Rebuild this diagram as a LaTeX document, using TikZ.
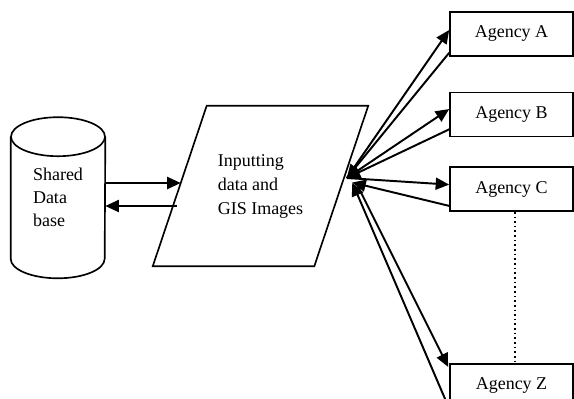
\documentclass[tikz,border=0pt]{standalone}
\usepackage{fontspec}
\setmainfont{Liberation Serif}
\usetikzlibrary{shapes, arrows.meta, positioning, calc}

\begin{document}
\begin{tikzpicture}
  [x=0.6667pt, y=0.6667pt,
  % block
  block/.style = {rectangle,
    draw, line width=1.1pt,
    minimum width=82pt,
    minimum height=29.3pt,
    font=\fontsize{12}{15}\selectfont},
  % input
  input/.style = {rectangle,
    minimum width=107.3pt,
    minimum height=106.7pt,
    align=left, font=\fontsize{12}{16}\selectfont},
  % base
  base/.style = {rectangle,
    minimum width=62.7pt,
    minimum height=81pt,
    align=left, font=\fontsize{12}{15.3}\selectfont},
  % line
  line/.style = {draw, line width=1.3pt,
    -{Triangle[length=9pt, width=8pt]}},
  ]

  \useasboundingbox (0,0) rectangle (574,398);
  \clip (0,0) rectangle (574,398);

  % nodes
  \node [base] (db) at (58,200.25) {Shared\\Data\\base};
  \node [input] (inp) at (260.5,212) {Inputting\\data and\\GIS Images};
  \node [block] (A) at (511.5,364) {Agency A};
  \node [block, below=23.3pt of A] (B) {Agency B};
  \node [block, below=19.3pt of B] (C) {Agency C};
  \node [block, below=100.7pt of C] (Z) {Agency Z};

  % cylinder
  \draw [line width=1.1pt] (db.north west) -- (db.south west)
    arc [start angle=180, end angle=360, x radius=47, y radius=19.5]
    -- (db.north east);
  \draw [line width=1.1pt] (db.north) ellipse [x radius=47, y radius=19.5];

  % parallelogram
  \draw [line width=1.1pt] ($(inp.north west)+(27,0)$) -- ($(inp.north east)+(27,0)$)
    -- ($(inp.south east)+(-27,0)$) -- ($(inp.south west)+(-27,0)$) -- cycle;

  \coordinate (hub) at ($(inp.east)+(5.5,8)$);
  \coordinate (hubc) at ($(inp.east)+(11,3.5)$);
  \coordinate (hubz) at ($(inp.east)+(16.5,0)$);

  % path
  \path [line] ($(db.east)+(0,14.75)$) -- ($(inp.west)+(1,3)$);
  \path [line] ($(inp.west)+(-3,-20)$) -- ($(db.east)+(0,-8.25)$);
  \path [line] (hub) -- ($(A.west)+(0,4)$);
  \path [line] ($(A.south west)+(0,4)$) -- (hub);
  \path [line] (hub) -- ($(B.west)+(0,5.5)$);
  \path [line] ($(B.south west)+(0,8)$) -- (hub);
  \path [line] (hub) -- ($(C.west)+(0,4.5)$);
  \path [line] ($(C.south west)+(0,6)$) -- (hubc);
  \path [line] (hubz) -- ($(Z.north west)+(-1,-4)$);
  \path [line] (Z.south west) -- (hubc);
  \draw [line width=1.1pt, dotted] ($(C.south)+(3.5,0)$) -- ($(Z.north)+(3.5,0)$);

\end{tikzpicture}
\end{document}
